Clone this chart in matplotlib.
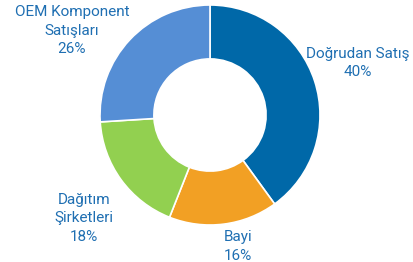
import matplotlib
matplotlib.use("Agg")
import matplotlib.pyplot as plt

# slices, clockwise from 12 o'clock
categories = ["Doğrudan Satış", "Bayi", "Dağıtım\nŞirketleri", "OEM Komponent\nSatışları"]
shares = [40, 16, 18, 26]
colors = ["#0068a8", "#f2a024", "#92d050", "#558ed5"]
label_xy = [(1.345, 0.47), (0.255, -1.195), (-1.145, -0.94), (-1.255, 0.765)]

plt.rcParams['font.family'] = ['Roboto', 'DejaVu Sans']

fig = plt.figure(figsize=(4.14, 2.62), dpi=100)
ax = fig.add_axes([0, 0, 1, 1])

ax.pie(shares, colors=colors, startangle=90, counterclock=False, radius=1.0,
       wedgeprops=dict(width=0.49, edgecolor="white", linewidth=1.2))

for name, val, (x, y) in zip(categories, shares, label_xy):
    ax.text(x, y, "{}\n{}%".format(name, val), ha="center", va="center",
            fontsize=11, color="#1f6fb2", linespacing=1.4)

ax.set_xlim(-210 / 110, 204 / 110)
ax.set_ylim(-147 / 110, 115 / 110)
ax.set_aspect("auto")
ax.axis("off")

fig.savefig("out.png", dpi=100)
